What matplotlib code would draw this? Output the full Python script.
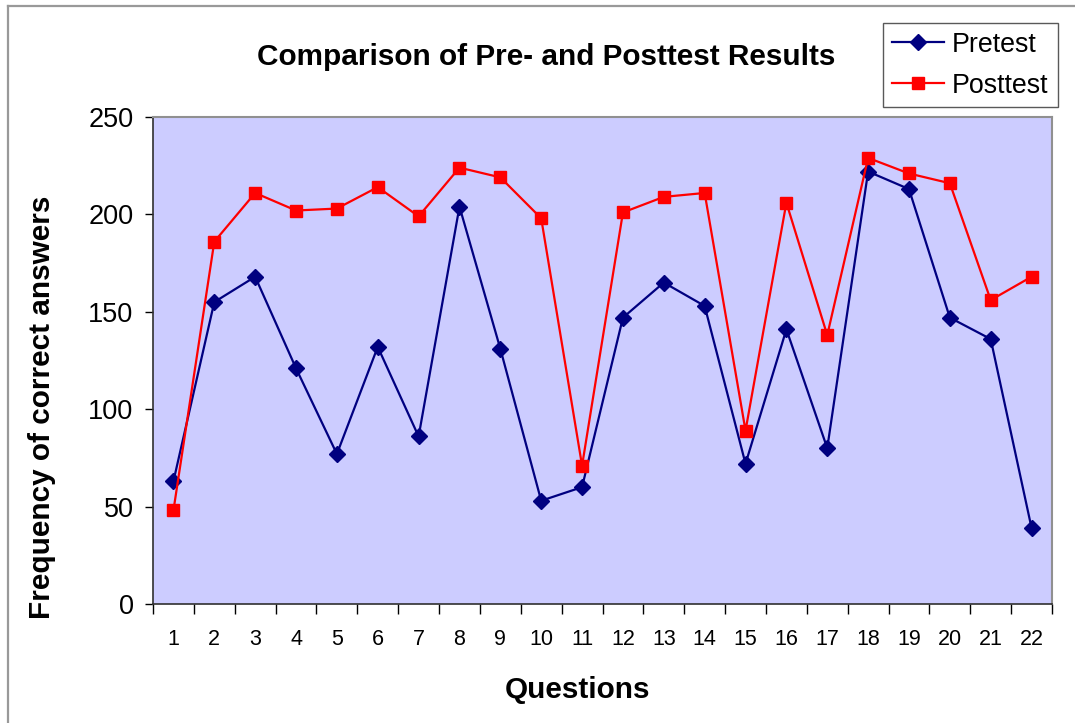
import matplotlib
matplotlib.use("Agg")
import matplotlib.pyplot as plt
from matplotlib.lines import Line2D

plt.rcParams['font.family'] = ['Liberation Sans', 'DejaVu Sans']

questions = [str(i) for i in range(1, 23)]
pretest = [63, 155, 168, 121, 77, 132, 86, 204, 131, 53, 60,
           147, 165, 153, 72, 141, 80, 222, 213, 147, 136, 39]
posttest = [48, 186, 211, 202, 203, 214, 199, 224, 219, 198, 71,
            201, 209, 211, 89, 206, 138, 229, 221, 216, 156, 168]
y_ticks = [0, 50, 100, 150, 200, 250]

W, H = 1075, 723
fig = plt.figure(figsize=(W / 100, H / 100), dpi=100)

# plot area in pixel coordinates
left, right, top, bottom = 153, 1052, 117, 604
ax = fig.add_axes([left / W, 1 - bottom / H, (right - left) / W, (bottom - top) / H])
ax.set_facecolor('#CCCCFF')

x = list(range(len(questions)))
ax.plot(x, pretest, color='#000080', lw=1.6, marker='D', ms=8,
        mfc='#000080', mec='#000080', label='Pretest')
ax.plot(x, posttest, color='#FF0000', lw=1.6, marker='s', ms=8,
        mfc='#FF0000', mec='#FF0000', label='Posttest')

ax.set_xlim(-0.5, len(questions) - 0.5)
ax.set_ylim(0, 250)

# category labels sit between tick marks
ax.set_xticks([i - 0.5 for i in range(len(questions) + 1)])
ax.set_xticklabels([])
ax.set_xticks(x, minor=True)
ax.set_xticklabels(questions, minor=True, fontsize=15.5)
ax.tick_params(axis='x', which='major', length=7, width=1, color='#000000', direction='out')
ax.tick_params(axis='x', which='minor', length=0, pad=18)

ax.set_yticks(y_ticks)
ax.set_yticklabels([str(v) for v in y_ticks], fontsize=19.5)
ax.tick_params(axis='y', length=6, width=1, pad=8)

for s in ['left', 'bottom']:
    ax.spines[s].set_color('#303030')
    ax.spines[s].set_linewidth(1.2)
for s in ['top', 'right']:
    ax.spines[s].set_color('#909090')
    ax.spines[s].set_linewidth(1.5)

fig.text(546 / W, 1 - 57 / H, 'Comparison of Pre- and Posttest Results',
         fontsize=21.4, fontweight='bold', ha='center', va='center')
fig.text(42 / W, 1 - 407 / H, 'Frequency of correct answers',
         fontsize=21.4, fontweight='bold', ha='center', va='center', rotation=90)
fig.text(578 / W, 1 - 690 / H, 'Questions',
         fontsize=21.4, fontweight='bold', ha='center', va='center')

# legend
handles = [
    Line2D([], [], color='#000080', lw=1.6, marker='D', ms=8, mfc='#000080', mec='#000080'),
    Line2D([], [], color='#FF0000', lw=1.6, marker='s', ms=8, mfc='#FF0000', mec='#FF0000'),
]
leg = fig.legend(handles, ['Pretest', 'Posttest'], loc='upper left',
                 bbox_to_anchor=(883 / W, 1 - 23 / H), fontsize=19.3,
                 frameon=True, fancybox=False, edgecolor='#303030',
                 handlelength=1.95, handletextpad=0.3, borderpad=0.33,
                 labelspacing=0.55, borderaxespad=0)
leg.get_frame().set_linewidth(1.0)

# chart-area border
fig.add_artist(Line2D([7.5 / W, 7.5 / W], [0, 1 - 6 / H], transform=fig.transFigure,
                      color='#999999', lw=1.6))
fig.add_artist(Line2D([7.5 / W, 1], [1 - 6 / H, 1 - 6 / H], transform=fig.transFigure,
                      color='#999999', lw=1.6))

fig.savefig('out.png', dpi=100)
